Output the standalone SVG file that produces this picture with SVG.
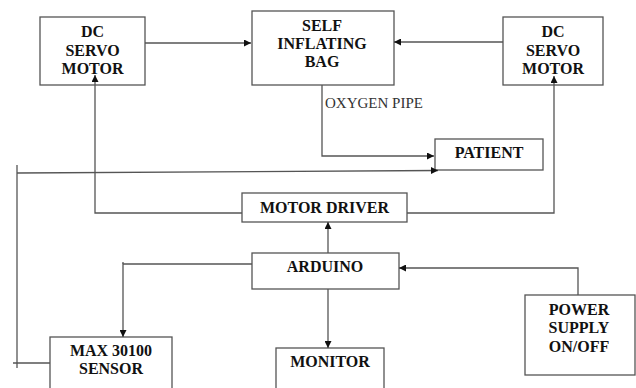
<svg xmlns="http://www.w3.org/2000/svg" width="636" height="388" viewBox="0 0 636 388">
<style>
.box{fill:#fff;stroke:#555;stroke-width:1.3}
.t{font-family:"Liberation Serif","Tinos","DejaVu Serif","Times New Roman",serif;font-weight:bold;font-size:16px;fill:#111;text-anchor:middle}
.lbl{font-family:"Liberation Serif","Tinos","DejaVu Serif","Times New Roman",serif;font-size:15px;fill:#333}
.c{fill:none;stroke:#555;stroke-width:1.3}
</style>
<defs>
<marker id="ah" viewBox="0 0 10 10" refX="10" refY="5" markerWidth="8" markerHeight="7" markerUnits="userSpaceOnUse" orient="auto">
<path d="M0,0 L10,5 L0,10 z" fill="#111"/>
</marker>
</defs>
<rect width="636" height="388" fill="#fff"/>
<g id="dc-motor-left">
<rect class="box" x="40" y="17" width="105" height="68"/>
<text class="t" x="92.5" y="37">DC</text>
<text class="t" x="92.5" y="56">SERVO</text>
<text class="t" x="92.5" y="74">MOTOR</text>
</g>
<g id="self-inflating-bag">
<rect class="box" x="252" y="11" width="142" height="74"/>
<text class="t" x="322" y="31">SELF</text>
<text class="t" x="322" y="49">INFLATING</text>
<text class="t" x="322" y="67">BAG</text>
</g>
<g id="dc-motor-right">
<rect class="box" x="503" y="17" width="100" height="68"/>
<text class="t" x="553" y="37">DC</text>
<text class="t" x="553" y="56">SERVO</text>
<text class="t" x="553" y="74">MOTOR</text>
</g>
<g id="oxygen-pipe-label">
<text class="lbl" x="325" y="108">OXYGEN PIPE</text>
</g>
<g id="patient">
<rect class="box" x="435" y="139" width="108" height="31"/>
<text class="t" x="489" y="158">PATIENT</text>
</g>
<g id="motor-driver">
<rect class="box" x="242" y="193" width="165" height="29"/>
<text class="t" x="324.5" y="213">MOTOR DRIVER</text>
</g>
<g id="arduino">
<rect class="box" x="252" y="253" width="147" height="36"/>
<text class="t" x="325" y="272">ARDUINO</text>
</g>
<g id="power-supply">
<rect class="box" x="525" y="295" width="110" height="80"/>
<text class="t" x="579" y="315">POWER</text>
<text class="t" x="579" y="333">SUPPLY</text>
<text class="t" x="579" y="352">ON/OFF</text>
</g>
<g id="max30100">
<rect class="box" x="50" y="337" width="122" height="60"/>
<text class="t" x="111" y="356">MAX 30100</text>
<text class="t" x="111" y="374">SENSOR</text>
</g>
<g id="monitor">
<rect class="box" x="276" y="348" width="108" height="50"/>
<text class="t" x="330" y="367">MONITOR</text>
</g>
<g id="connectors">
<path class="c" d="M145,43 H251" marker-end="url(#ah)"/>
<path class="c" d="M503,42 H394" marker-end="url(#ah)"/>
<path class="c" d="M322,85 V156 H434" marker-end="url(#ah)"/>
<path class="c" d="M17,173 L438,170.5" marker-end="url(#ah)"/>
<path class="c" d="M17,165 V368"/>
<path class="c" d="M13,363 H50"/>
<path class="c" d="M242,213 H95 V75" marker-end="url(#ah)"/>
<path class="c" d="M407,213 H554 V76" marker-end="url(#ah)"/>
<path class="c" d="M328,253 V222" marker-end="url(#ah)"/>
<path class="c" d="M328,289 V348" marker-end="url(#ah)"/>
<path class="c" d="M252,264 H123 V337" marker-end="url(#ah)"/>
<path class="c" d="M123,262 V264"/>
<path class="c" d="M578,295 V268 H399" marker-end="url(#ah)"/>
</g>
</svg>
